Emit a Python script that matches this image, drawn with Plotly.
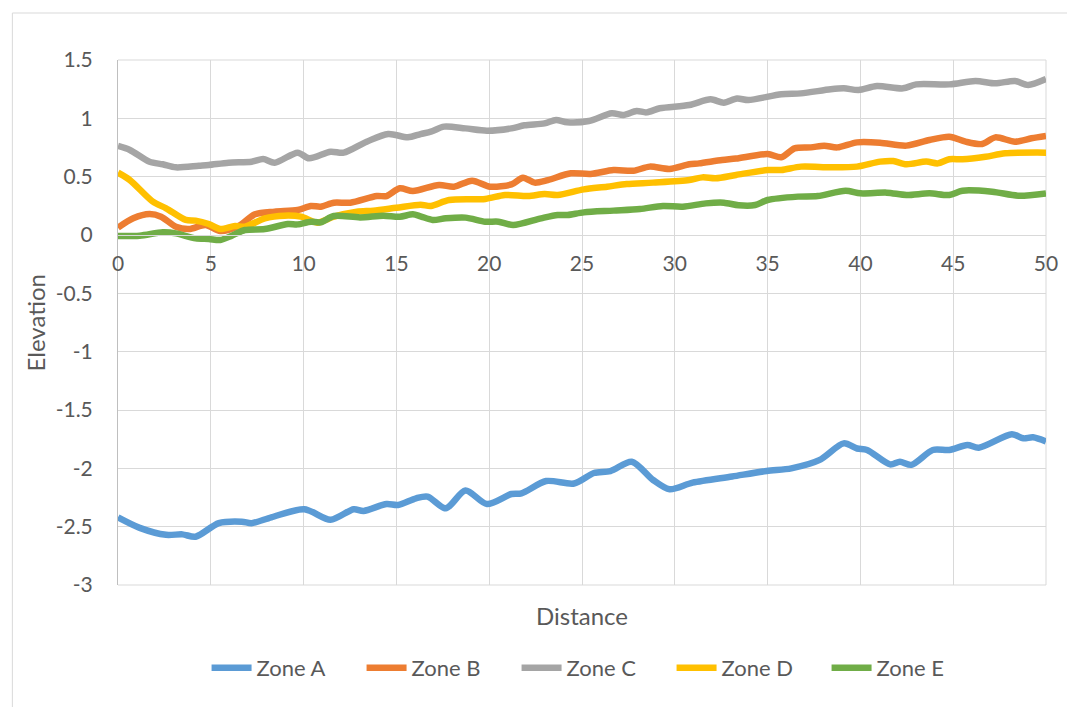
import plotly.graph_objects as go

# ---- data ----
zone_a_x = [0, 1.17, 2.59, 3.47, 4.18, 5.43, 6.67, 7.2, 8.26, 10.04, 11.45, 12.7, 13.23, 14.47, 15.09,
            16.06, 16.68, 17.66, 18.72, 19.88, 21.2, 21.74, 23.07, 24.57, 25.64, 26.53, 27.68, 28.83,
            29.72, 30.96, 33.09, 34.95, 36.28, 37.78, 39.1, 39.82, 40.36, 41.6, 42.13, 42.75, 43.9,
            44.79, 45.76, 46.38, 48.16, 48.78, 49.3, 50]
zone_a_y = [-2.42, -2.51, -2.57, -2.566, -2.586, -2.47, -2.457, -2.47, -2.42, -2.35, -2.44, -2.35,
            -2.365, -2.306, -2.314, -2.257, -2.243, -2.343, -2.19, -2.306, -2.22, -2.214, -2.109,
            -2.13, -2.04, -2.023, -1.943, -2.1, -2.18, -2.123, -2.07, -2.023, -2.0, -1.93, -1.786,
            -1.83, -1.843, -1.966, -1.943, -1.97, -1.843, -1.843, -1.8, -1.823, -1.708, -1.743,
            -1.734, -1.77]

zone_b_x = [0, 0.82, 1.7, 2.32, 3.12, 3.83, 4.72, 5.51, 6.49, 7.38, 8.44, 9.68, 10.39, 10.92, 11.63,
            12.52, 13.94, 14.47, 15.18, 15.89, 17.3, 18.1, 19.08, 20.05, 21.2, 21.82, 22.45, 23.16,
            24.4, 25.46, 26.7, 27.77, 28.65, 29.72, 30.78, 31.31, 32.55, 33.3, 35.0, 35.74, 36.45,
            37.34, 38.05, 38.76, 39.82, 41.06, 42.48, 43.72, 44.79, 45.67, 46.56, 47.27, 48.33,
            49.22, 50]
zone_b_y = [0.063, 0.143, 0.18, 0.157, 0.071, 0.051, 0.086, 0.034, 0.077, 0.177, 0.2, 0.214, 0.249,
            0.243, 0.277, 0.277, 0.334, 0.334, 0.4, 0.377, 0.429, 0.414, 0.466, 0.414, 0.434, 0.491,
            0.449, 0.471, 0.529, 0.523, 0.557, 0.551, 0.586, 0.566, 0.606, 0.614, 0.643, 0.655,
            0.694, 0.666, 0.743, 0.751, 0.766, 0.751, 0.794, 0.791, 0.766, 0.814, 0.843, 0.8, 0.78,
            0.837, 0.8, 0.829, 0.849]

zone_c_x = [0, 0.64, 1.7, 2.41, 3.12, 4.36, 4.89, 5.96, 7.2, 7.82, 8.44, 9.68, 10.3, 11.45, 12.16,
            13.4, 14.56, 15.62, 16.3, 16.86, 17.57, 18.72, 19.88, 21.2, 21.9, 22.98, 23.6, 24.2,
            25.37, 26.6, 27.23, 27.94, 28.47, 29.19, 30.78, 31.93, 32.64, 33.35, 33.97, 35.74, 36.8,
            38.4, 39.11, 39.9, 40.89, 42.3, 43.01, 44.79, 46.2, 47.27, 48.33, 49.04, 50]
zone_c_y = [0.763, 0.729, 0.628, 0.606, 0.58, 0.594, 0.6, 0.62, 0.628, 0.651, 0.62, 0.706, 0.657,
            0.714, 0.706, 0.8, 0.866, 0.837, 0.865, 0.886, 0.929, 0.914, 0.894, 0.914, 0.94, 0.957,
            0.986, 0.966, 0.977, 1.043, 1.029, 1.063, 1.051, 1.086, 1.114, 1.163, 1.134, 1.17,
            1.157, 1.206, 1.214, 1.249, 1.257, 1.243, 1.277, 1.257, 1.291, 1.291, 1.32, 1.3, 1.32,
            1.286, 1.337]

zone_d_x = [0, 0.64, 1.88, 2.59, 3.65, 4.18, 4.89, 5.51, 6.31, 6.84, 7.91, 8.97, 9.86, 10.74, 11.63,
            12.87, 13.76, 15.0, 16.3, 16.86, 17.84, 19.79, 20.85, 22.09, 22.98, 23.69, 25.1, 26.35,
            27.41, 28.83, 30.78, 31.49, 32.2, 33.3, 35.0, 35.74, 36.8, 38.4, 39.82, 41.06, 41.77,
            42.48, 43.55, 44.17, 44.79, 45.5, 46.74, 47.8, 50]
zone_d_y = [0.534, 0.471, 0.286, 0.229, 0.129, 0.123, 0.094, 0.051, 0.077, 0.071, 0.143, 0.166,
            0.157, 0.106, 0.157, 0.2, 0.209, 0.234, 0.26, 0.249, 0.3, 0.309, 0.343, 0.334, 0.351,
            0.343, 0.391, 0.414, 0.437, 0.449, 0.471, 0.494, 0.486, 0.515, 0.557, 0.557, 0.586,
            0.58, 0.586, 0.629, 0.634, 0.606, 0.629, 0.614, 0.649, 0.649, 0.671, 0.7, 0.706]

zone_e_x = [0, 1.17, 2.41, 3.12, 4.18, 4.89, 5.51, 6.13, 6.84, 7.91, 9.15, 9.68, 10.39, 10.92, 11.63,
            13.05, 14.29, 15.18, 15.89, 16.3, 16.95, 17.66, 18.72, 19.79, 20.5, 21.29, 22.8, 23.69,
            24.22, 25.1, 26.7, 28.12, 29.36, 30.43, 31.67, 32.64, 33.44, 34.33, 35.0, 36.63, 37.7,
            39.2, 40.0, 41.42, 42.48, 43.72, 44.79, 45.5, 47.1, 48.5, 50]
zone_e_y = [-0.009, -0.006, 0.023, 0.014, -0.029, -0.034, -0.043, -0.006, 0.043, 0.051, 0.094,
            0.091, 0.114, 0.109, 0.163, 0.151, 0.166, 0.157, 0.177, 0.16, 0.129, 0.143, 0.149, 0.114,
            0.114, 0.086, 0.143, 0.171, 0.171, 0.194, 0.209, 0.223, 0.249, 0.243, 0.271, 0.277,
            0.255, 0.257, 0.3, 0.329, 0.334, 0.38, 0.357, 0.363, 0.343, 0.357, 0.343, 0.38, 0.371,
            0.337, 0.357]

series_names = ["Zone A", "Zone B", "Zone C", "Zone D", "Zone E"]
series_colors = ["#5B9BD5", "#ED7D31", "#A5A5A5", "#FFC000", "#70AD47"]
x_ticks = [0, 5, 10, 15, 20, 25, 30, 35, 40, 45, 50]
y_ticks = [1.5, 1, 0.5, 0, -0.5, -1, -1.5, -2, -2.5, -3]
y_tick_text = ["1.5", "1", "0.5", "0", "-0.5", "-1", "-1.5", "-2", "-2.5", "-3"]

FONT = "Lato"
TXT = "#595959"
GRID = "#D9D9D9"

fig = go.Figure()
all_x = [zone_a_x, zone_b_x, zone_c_x, zone_d_x, zone_e_x]
all_y = [zone_a_y, zone_b_y, zone_c_y, zone_d_y, zone_e_y]
for name, color, xs, ys in zip(series_names, series_colors, all_x, all_y):
    fig.add_trace(go.Scatter(
        x=xs, y=ys, name=name, mode="lines",
        line=dict(color=color, width=6.5, shape="spline", smoothing=0.8),
    ))

fig.update_layout(
    width=1059, height=699,
    margin=dict(l=110, r=9, t=52, b=122),
    paper_bgcolor="white", plot_bgcolor="white",
    font=dict(family=FONT, color=TXT, size=20),
    showlegend=True,
    legend=dict(orientation="h", x=0.513, xanchor="center", y=-0.158, yanchor="middle",
                font=dict(family=FONT, size=22, color=TXT), itemwidth=40, tracegroupgap=0,
                entrywidth=100, entrywidthmode="pixels"),
    xaxis=dict(
        range=[0, 50], tickvals=x_ticks, ticktext=[str(v) for v in x_ticks],
        showgrid=True, gridcolor=GRID, gridwidth=1,
        anchor="free", position=2/3, side="bottom",
        showline=True, linecolor=GRID, linewidth=1,
        zeroline=False, ticks="", ticklabelstandoff=10, ticklabeloverflow="allow",
        tickfont=dict(family=FONT, size=21, color=TXT),
    ),
    yaxis=dict(
        range=[-3, 1.5], tickvals=y_ticks, ticktext=y_tick_text,
        showgrid=True, gridcolor=GRID, gridwidth=1,
        showline=True, linecolor="#BFBFBF", linewidth=1,
        zeroline=False, ticks="", ticklabelstandoff=20,
        tickfont=dict(family=FONT, size=21, color=TXT),
        mirror=False,
    ),
    annotations=[
        dict(text="Distance", xref="paper", yref="paper", x=0.5, y=0,
             xanchor="center", yanchor="middle", yshift=-30, showarrow=False,
             font=dict(family=FONT, size=24, color=TXT)),
        dict(text="Elevation", xref="paper", yref="paper", x=0, y=0.5,
             xanchor="center", yanchor="middle", xshift=-83, textangle=-90, showarrow=False,
             font=dict(family=FONT, size=24, color=TXT)),
    ],
    shapes=[
        dict(type="rect", xref="paper", yref="paper",
             x0=(11 - 118) / 940, x1=1.3, y0=-0.6, y1=(585 - 13) / 525,
             line=dict(color=GRID, width=1), fillcolor="rgba(0,0,0,0)", layer="below"),
        dict(type="line", xref="paper", yref="paper", x0=1, x1=1, y0=0, y1=1,
             line=dict(color=GRID, width=1), layer="below"),
        dict(type="line", xref="paper", yref="paper", x0=0, x1=1, y0=1, y1=1,
             line=dict(color=GRID, width=1), layer="below"),
        dict(type="line", xref="paper", yref="paper", x0=0, x1=1, y0=0, y1=0,
             line=dict(color=GRID, width=1), layer="below"),
    ],
)

fig.write_html("out.html", config={"displayModeBar": False})
